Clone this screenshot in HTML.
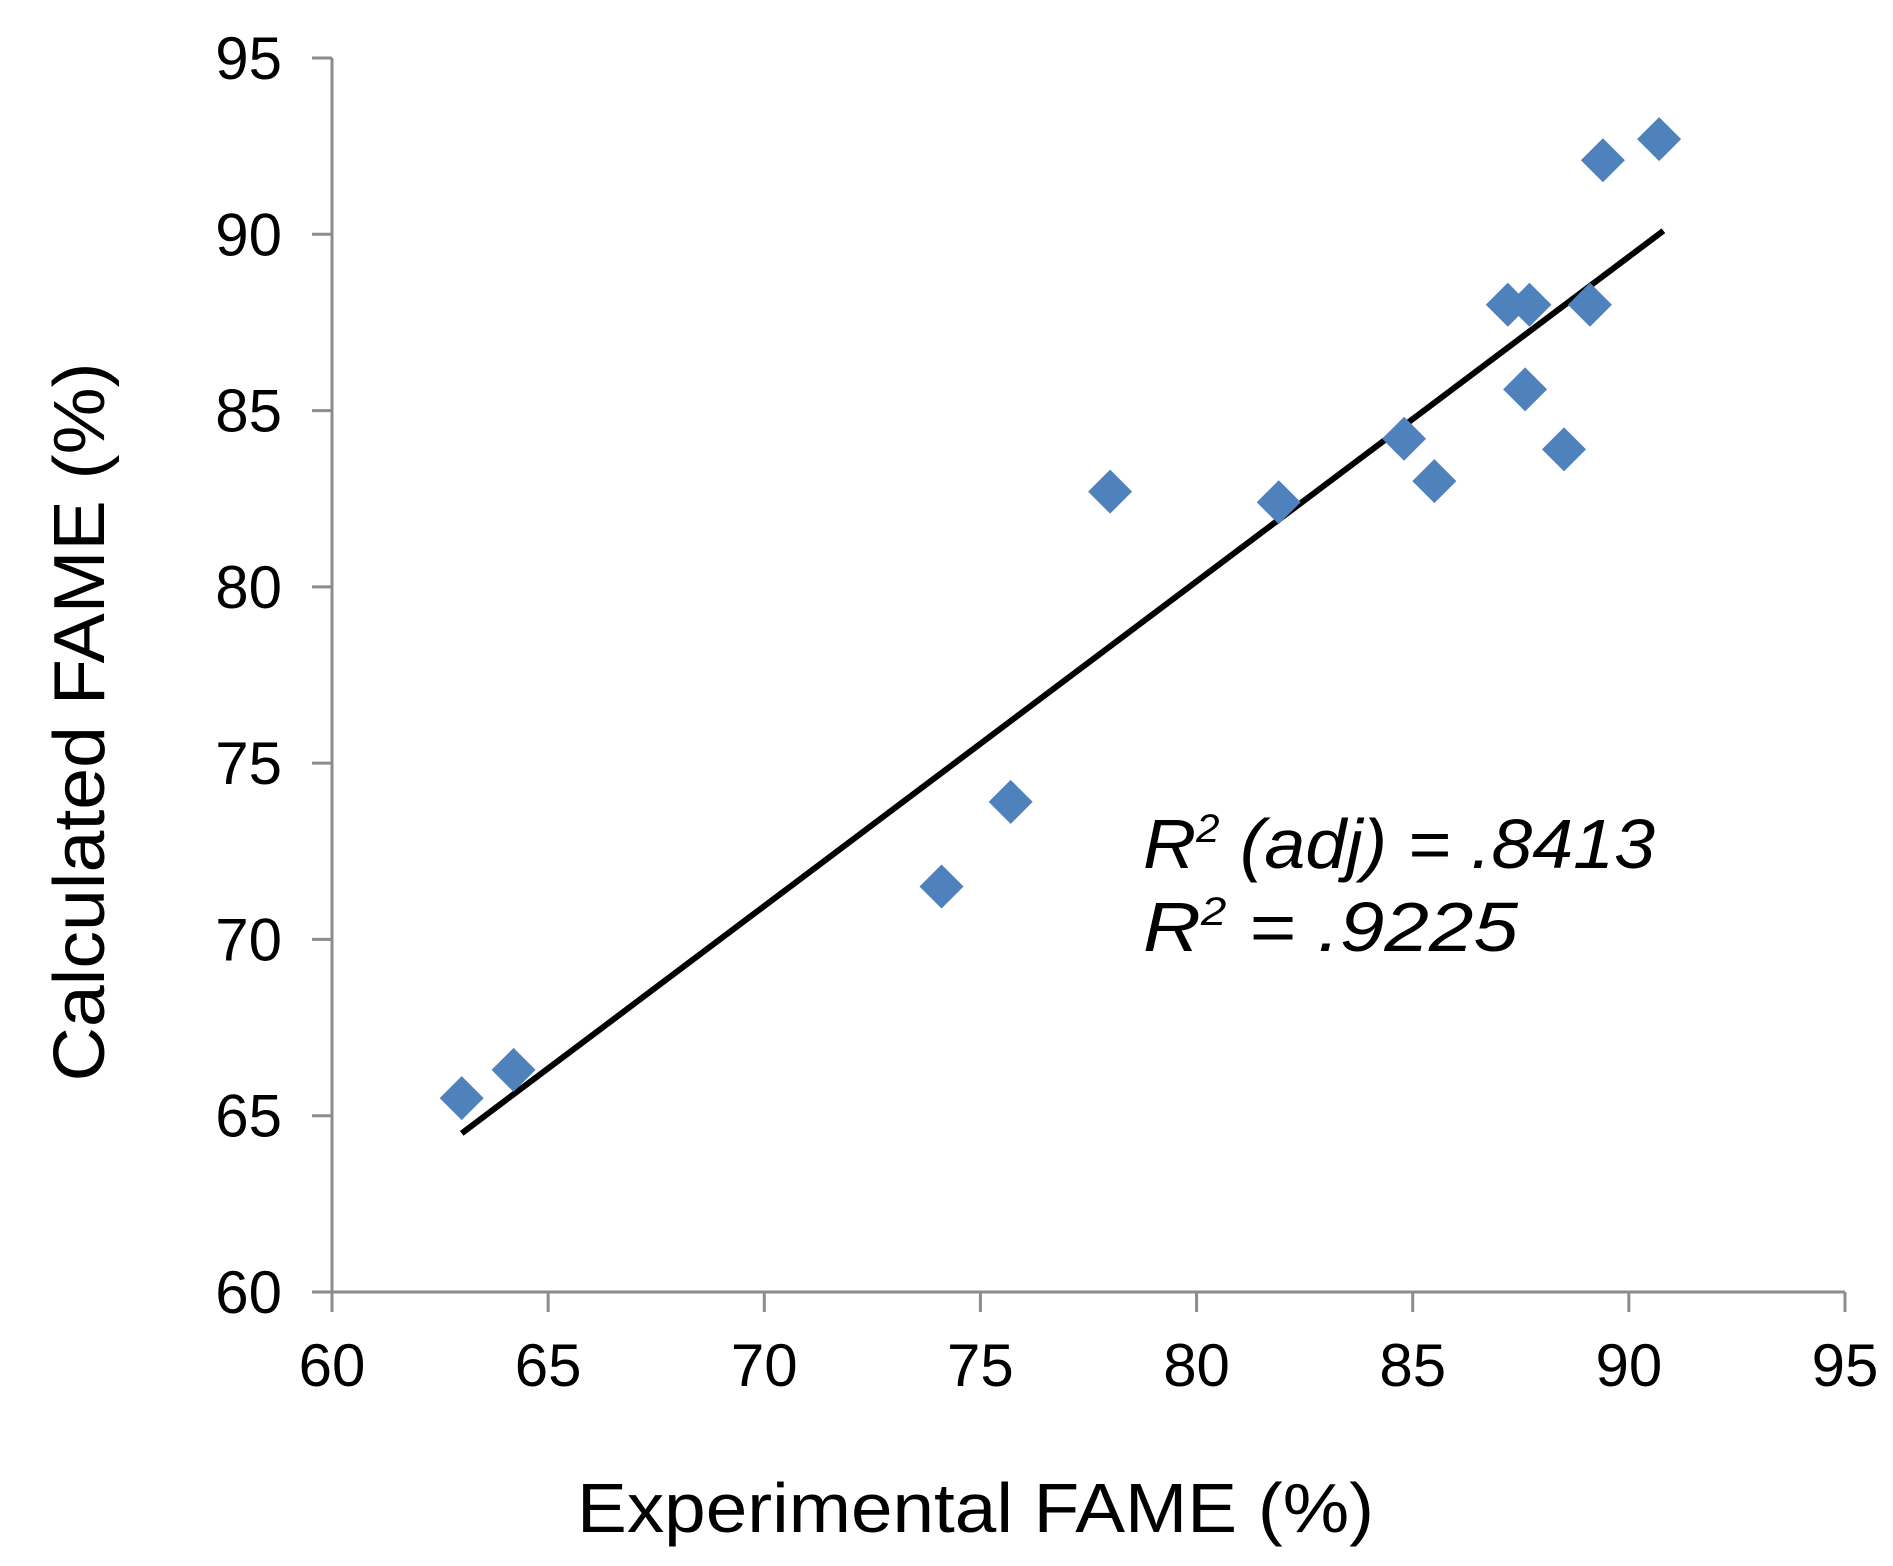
<!DOCTYPE html>
<html><head><meta charset="utf-8"><style>html,body{margin:0;padding:0;background:#fff}svg{display:block}</style></head>
<body>
<svg id="chart" width="1893" height="1566" viewBox="0 0 1893 1566" xmlns="http://www.w3.org/2000/svg" font-family="'Liberation Sans', Arial, sans-serif">
<g id="axes"></g>
<g id="fit"></g>
<g id="pts"></g>
<text transform="translate(104,722) rotate(-90)" text-anchor="middle" font-size="72" textLength="719" lengthAdjust="spacingAndGlyphs" fill="#000">Calculated  FAME (%)</text>
<text x="577" y="1532" font-size="70" textLength="797" lengthAdjust="spacingAndGlyphs" fill="#000">Experimental  FAME (%)</text>
<text x="1143" y="868" font-size="70" font-style="italic" fill="#000" textLength="512" lengthAdjust="spacingAndGlyphs">R<tspan font-size="40" dy="-26">2</tspan><tspan dy="26"> (adj) = .8413</tspan></text>
<text x="1143" y="951" font-size="70" font-style="italic" fill="#000" textLength="375" lengthAdjust="spacingAndGlyphs">R<tspan font-size="40" dy="-26">2</tspan><tspan dy="26">  = .9225</tspan></text>
</svg>
<script>
const xTicks = [60,65,70,75,80,85,90,95];
const yTicks = [60,65,70,75,80,85,90,95];
const expX = [63.0,64.2,74.1,75.7,78.0,81.9,84.8,85.5,87.2,87.7,87.6,88.5,89.1,89.4,90.7];
const calcY = [65.5,66.3,71.5,73.9,82.7,82.4,84.2,83.0,88.0,88.0,85.6,83.9,88.0,92.1,92.7];
const fitX = [63.0,90.8];
const fitY = [64.5,90.1];

const NS='http://www.w3.org/2000/svg';
const X0=332,X1=1845,Y0=1292,Y1=58;
const sx=v=>X0+(v-60)/35*(X1-X0);
const sy=v=>Y0-(v-60)/35*(Y0-Y1);
function mk(tag,attrs,parent){const e=document.createElementNS(NS,tag);for(const k in attrs)e.setAttribute(k,attrs[k]);parent.appendChild(e);return e;}
const ax=document.getElementById('axes');
let l=mk('line',{x1:X0,y1:Y1,x2:X0,y2:Y0,stroke:'#8c8c8c','stroke-width':3},ax);


l=mk('line',{x1:X0,y1:Y0,x2:X1,y2:Y0,stroke:'#8c8c8c','stroke-width':3},ax);


yTicks.forEach(v=>{
  const t=mk('line',{x1:X0-20,y1:sy(v),x2:X0,y2:sy(v),stroke:'#8c8c8c','stroke-width':3},ax);
  
  
  const tx=mk('text',{x:282,y:sy(v)+21,'text-anchor':'end','font-size':60,fill:'#000'},ax);
  tx.textContent=v;
  
  
});
xTicks.forEach(v=>{
  const t=mk('line',{x1:sx(v),y1:Y0,x2:sx(v),y2:Y0+20,stroke:'#8c8c8c','stroke-width':3},ax);
  
  
  const tx=mk('text',{x:sx(v),y:1386,'text-anchor':'middle','font-size':60,fill:'#000'},ax);
  tx.textContent=v;
  
  
});
const fl=mk('line',{x1:sx(fitX[0]),y1:sy(fitY[0]),x2:sx(fitX[1]),y2:sy(fitY[1]),stroke:'#000','stroke-width':6},document.getElementById('fit'));


const pg=document.getElementById('pts');
const r=22;
expX.forEach((x,i)=>{
  const cx=sx(x),cy=sy(calcY[i]);
  const p=mk('polygon',{points:`${cx},${cy-r} ${cx+r},${cy} ${cx},${cy+r} ${cx-r},${cy}`,fill:'#4f81bd'},pg);
  
  
});
</script>
</body></html>
